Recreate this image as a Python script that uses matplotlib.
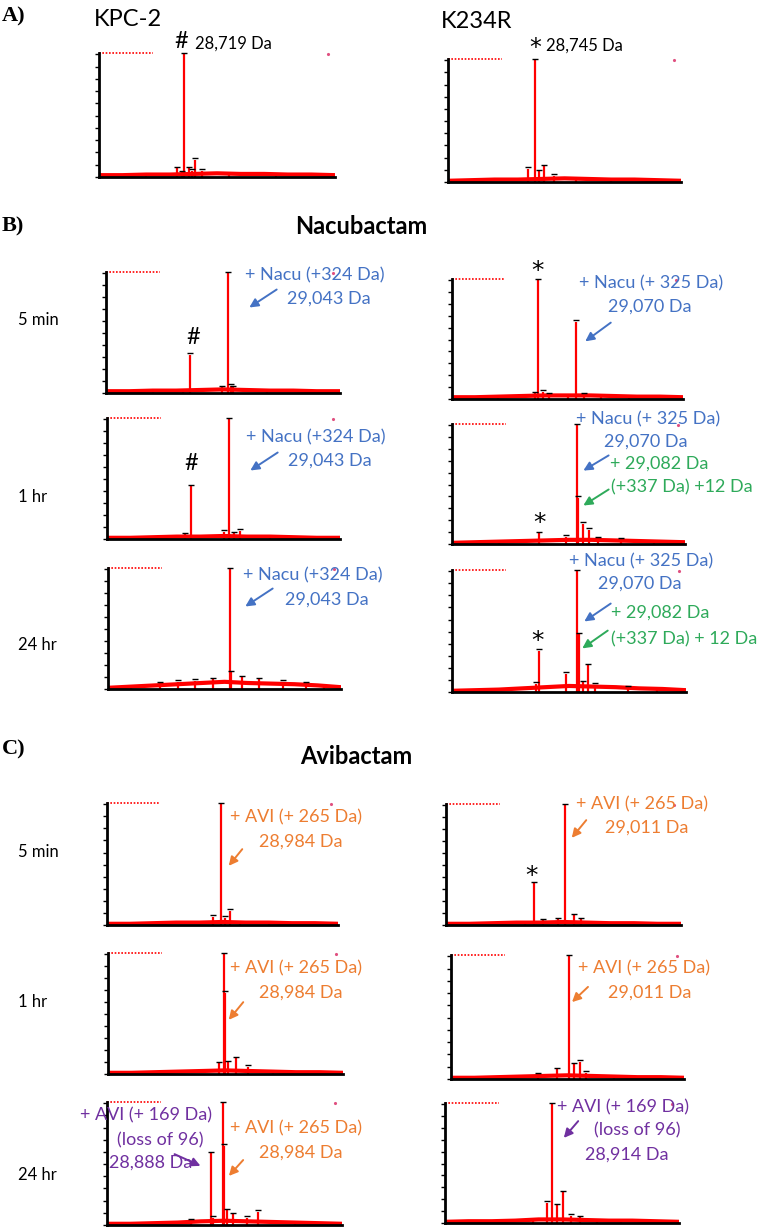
import matplotlib.pyplot as plt

# mass grid used for the baseline levels (Da)
base_mz = [28000, 28200, 28400, 28600, 28800, 29000, 29200, 29400, 29600, 29800, 30000]

# A) apo enzymes
kpc2_mz = [28400, 28660, 28700, 28719, 28763, 28790, 28814, 28873, 29100, 29500]
kpc2_int = [2, 7, 4, 100, 7, 5, 14, 5, 3, 2]
kpc2_base = [1.5, 1.5, 2, 2, 2.5, 3, 2.5, 2.5, 2, 2, 1.5]

k234r_mz = [28300, 28690, 28745, 28781, 28824, 28910, 29100, 29400]
k234r_int = [2, 11, 100, 9, 13, 5, 3, 2]
k234r_base = [1, 1.5, 2, 2, 2.5, 3, 2.5, 2, 2, 1.5, 1]

# B) nacubactam
nacu_kpc_5m_mz = [28400, 28658, 28719, 28991, 29043, 29070, 29088, 29374, 29700]
nacu_kpc_5m_int = [2, 3, 32, 5, 100, 6, 5, 3, 2]
nacu_kpc_5m_base = [1.5, 1.5, 2, 2, 2.5, 3, 2.5, 2, 2, 1.5, 1.5]

nacu_k234r_5m_mz = [28400, 28720, 28745, 28790, 28840, 29004, 29070, 29143, 29290, 29532]
nacu_k234r_5m_int = [2, 5, 100, 6, 4, 3, 65, 4, 3, 2]
nacu_k234r_5m_base = [1.5, 1.5, 2, 2.5, 3, 3, 3, 2.5, 2, 2, 1.5]

nacu_kpc_1h_mz = [28500, 28670, 28719, 29000, 29043, 29090, 29141, 29400]
nacu_kpc_1h_int = [2, 4, 44, 6, 100, 5, 7, 2]
nacu_kpc_1h_base = [1, 1, 1.5, 2, 2, 2.5, 2, 2, 1.5, 1, 1]

nacu_k234r_1h_mz = [28400, 28745, 28979, 29070, 29082, 29124, 29176, 29253, 29450, 29734]
nacu_k234r_1h_int = [2, 9, 6, 100, 39, 17, 12, 5, 4, 3]
nacu_k234r_1h_base = [1, 1.5, 2, 2.5, 3, 3.5, 3.5, 3, 2.5, 2, 1.5]

nacu_kpc_24h_mz = [28200, 28450, 28600, 28750, 28900, 29043, 29060, 29150, 29300, 29500, 29700, 29850]
nacu_kpc_24h_int = [3, 5, 6, 7, 8, 100, 14, 10, 8, 6, 5, 3]
nacu_kpc_24h_base = [1, 2, 3, 4, 5, 6, 5, 4.5, 4, 3, 1.5]

nacu_k234r_24h_mz = [28300, 28720, 28745, 28974, 29070, 29082, 29120, 29162, 29220, 29500, 29750]
nacu_k234r_24h_int = [2, 7, 34, 15, 100, 48, 8, 22, 6, 4, 3]
nacu_k234r_24h_base = [1, 1.5, 2, 3, 4, 5, 4.5, 4, 3, 2.5, 1.5]

# C) avibactam
avi_kpc_5m_mz = [28500, 28920, 28984, 29022, 29065, 29150, 29400, 29700]
avi_kpc_5m_int = [2, 7, 100, 6, 12, 3, 2, 2]
avi_kpc_5m_base = [1, 1, 1.5, 2, 2, 2.5, 2, 2, 1.5, 1.5, 1]

avi_k234r_5m_mz = [28400, 28672, 28745, 28825, 28950, 29011, 29089, 29150, 29320, 29600]
avi_k234r_5m_int = [2, 3, 35, 4, 5, 100, 8, 5, 3, 2]
avi_k234r_5m_base = [1, 1, 1.5, 2, 2, 2.5, 2, 1.5, 1.5, 1, 1]

avi_kpc_1h_mz = [28500, 28944, 28984, 28995, 29021, 29089, 29190, 29400, 29700]
avi_kpc_1h_int = [2, 9, 100, 68, 10, 13, 6, 3, 2]
avi_kpc_1h_base = [1, 1, 1.5, 2, 2.5, 3, 2.5, 2, 1.5, 1.5, 1]

avi_k234r_1h_mz = [28400, 28744, 28910, 29011, 29060, 29110, 29160, 29400, 29700]
avi_k234r_1h_int = [2, 4, 8, 100, 12, 14, 5, 3, 2]
avi_k234r_1h_base = [1, 1, 1.5, 2, 2.5, 3, 2.5, 2, 1.5, 1.5, 1]

avi_kpc_24h_mz = [28400, 28715, 28888, 28904, 28984, 28995, 29021, 29072, 29191, 29285, 29600]
avi_kpc_24h_int = [2, 4, 59, 6, 100, 65, 12, 9, 6, 11, 2]
avi_kpc_24h_base = [1, 1, 1.5, 2, 3, 3.5, 3, 2.5, 2, 1.5, 1]

avi_k234r_24h_mz = [28300, 28500, 28750, 28869, 28914, 28955, 29006, 29080, 29150, 29300, 29500]
avi_k234r_24h_int = [2, 3, 3, 17, 100, 15, 26, 6, 5, 3, 3]
avi_k234r_24h_base = [1, 1.5, 1.5, 2, 3, 3, 2.5, 2, 2, 1.5, 1]

W, H = 762, 1228
fig = plt.figure(figsize=(W / 100, H / 100), dpi=100)

# panel boxes in pixels: left, top, right, bottom
panels = [
    (kpc2_mz, kpc2_int, kpc2_base, (99, 53, 335, 177)),
    (k234r_mz, k234r_int, k234r_base, (448, 59, 681, 182)),
    (nacu_kpc_5m_mz, nacu_kpc_5m_int, nacu_kpc_5m_base, (106, 272, 340, 393)),
    (nacu_k234r_5m_mz, nacu_k234r_5m_int, nacu_k234r_5m_base, (452, 279, 683, 399)),
    (nacu_kpc_1h_mz, nacu_kpc_1h_int, nacu_kpc_1h_base, (107, 418, 340, 539)),
    (nacu_k234r_1h_mz, nacu_k234r_1h_int, nacu_k234r_1h_base, (452, 424, 685, 544)),
    (nacu_kpc_24h_mz, nacu_kpc_24h_int, nacu_kpc_24h_base, (108, 568, 341, 689)),
    (nacu_k234r_24h_mz, nacu_k234r_24h_int, nacu_k234r_24h_base, (452, 570, 686, 692)),
    (avi_kpc_5m_mz, avi_kpc_5m_int, avi_kpc_5m_base, (107, 803, 338, 925)),
    (avi_k234r_5m_mz, avi_k234r_5m_int, avi_k234r_5m_base, (446, 804, 681, 925)),
    (avi_kpc_1h_mz, avi_kpc_1h_int, avi_kpc_1h_base, (108, 953, 343, 1074)),
    (avi_k234r_1h_mz, avi_k234r_1h_int, avi_k234r_1h_base, (451, 955, 684, 1079)),
    (avi_kpc_24h_mz, avi_kpc_24h_int, avi_kpc_24h_base, (107, 1102, 342, 1225)),
    (avi_k234r_24h_mz, avi_k234r_24h_int, avi_k234r_24h_base, (445, 1103, 679, 1223)),
]

for mz, inten, base, (l, t, r, b) in panels:
    ax = fig.add_axes([l / W, 1 - b / H, (r - l) / W, (b - t) / H])
    ax.plot(base_mz, base, color='red', lw=3, solid_capstyle='butt')
    ax.vlines(mz, 0, inten, color='red', lw=1.6)
    caps = [(m, v) for m, v in zip(mz, inten) if v >= 4]
    ax.plot([c[0] for c in caps], [c[1] + 1.2 for c in caps], ls='none',
            marker='_', ms=4, mew=1, color='black', clip_on=False)
    # red header line of the instrument print-out, and the small mark on the right
    ax.plot([0.0, 0.23], [1.0, 1.0], transform=ax.transAxes, color='red',
            ls=(0, (1, 1)), lw=1.2, clip_on=False)
    ax.plot([0.97], [0.99], transform=ax.transAxes, ls='none', marker='.',
            ms=2.5, color='#e05080', clip_on=False)
    ax.set_xlim(28000, 30000)
    ax.set_ylim(0, 101)
    ax.set_yticks(range(0, 101, 10))
    ax.set_yticklabels([])
    ax.set_xticks([])
    ax.tick_params(axis='y', direction='out', length=3, width=1, color='black')
    for s in ('top', 'right'):
        ax.spines[s].set_visible(False)
    for s in ('left', 'bottom'):
        ax.spines[s].set_linewidth(2)
    ax.patch.set_alpha(0)

ov = fig.add_axes([0, 0, 1, 1])
ov.set_xlim(0, W)
ov.set_ylim(H, 0)
ov.axis('off')

sans = 'Lato'
blue, orange, green, purple = '#4472C4', '#ED7D31', '#2EAA5A', '#7030A0'

for lab, y in [('A)', 16), ('B)', 226), ('C)', 749)]:
    ov.text(2, y, lab, family='Liberation Serif', weight='bold', fontsize=16, va='center')

ov.text(94, 20, 'KPC-2', family=sans, fontsize=17, va='center')
ov.text(441, 22, 'K234R', family=sans, fontsize=17, va='center')
ov.text(181, 42, '#', family=sans, fontsize=17, ha='center', va='center')
ov.text(195, 44, '28,719 Da', family=sans, fontsize=12, va='center')
ov.text(535, 48, '*', family='DejaVu Sans', fontsize=17, ha='center', va='center')
ov.text(546, 46, '28,745 Da', family=sans, fontsize=12, va='center')

ov.text(361, 227, 'Nacubactam', family=sans, weight='bold', fontsize=17, ha='center', va='center')
ov.text(356, 756, 'Avibactam', family=sans, weight='bold', fontsize=17, ha='center', va='center')

for lab, y in [('5 min', 320), ('1 hr', 497), ('24 hr', 645),
               ('5 min', 852), ('1 hr', 1002), ('24 hr', 1175)]:
    ov.text(18, y, lab, family=sans, fontsize=12, va='center')

for x, y in [(193, 337), (191, 463)]:
    ov.text(x, y, '#', family=sans, fontsize=17, ha='center', va='center')
for x, y in [(538, 271), (540, 523), (538, 641), (531, 876)]:
    ov.text(x, y, '*', family='DejaVu Sans', fontsize=18, ha='center', va='center')

labels = [
    ('+ Nacu (+324 Da)', 245, 275, blue), ('29,043 Da', 287, 299, blue),
    ('+ Nacu (+ 325 Da)', 579, 283, blue), ('29,070 Da', 608, 307, blue),
    ('+ Nacu (+324 Da)', 246, 437, blue), ('29,043 Da', 288, 461, blue),
    ('+ Nacu (+ 325 Da)', 576, 419, blue), ('29,070 Da', 604, 442, blue),
    ('+ 29,082 Da', 610, 464, green), ('(+337 Da) +12 Da', 611, 487, green),
    ('+ Nacu (+324 Da)', 243, 575, blue), ('29,043 Da', 285, 600, blue),
    ('+ Nacu (+ 325 Da)', 569, 561, blue), ('29,070 Da', 598, 584, blue),
    ('+ 29,082 Da', 611, 613, green), ('(+337 Da) + 12 Da', 611, 639, green),
    ('+ AVI (+ 265 Da)', 230, 817, orange), ('28,984 Da', 259, 842, orange),
    ('+ AVI (+ 265 Da)', 576, 804, orange), ('29,011 Da', 605, 828, orange),
    ('+ AVI (+ 265 Da)', 230, 968, orange), ('28,984 Da', 259, 993, orange),
    ('+ AVI (+ 265 Da)', 578, 968, orange), ('29,011 Da', 608, 993, orange),
    ('+ AVI (+ 169 Da)', 80, 1115, purple), ('(loss of 96)', 117, 1140, purple),
    ('28,888 Da', 109, 1163, purple),
    ('+ AVI (+ 265 Da)', 230, 1128, orange), ('28,984 Da', 259, 1153, orange),
    ('+ AVI (+ 169 Da)', 557, 1107, purple), ('(loss of 96)', 594, 1130, purple),
    ('28,914 Da', 585, 1155, purple),
]
for txt, x, y, c in labels:
    ov.text(x, y, txt, family=sans, fontsize=13, color=c, va='center')

arrows = [
    ((279, 288), (247, 309), blue), ((613, 321), (583, 343), blue),
    ((280, 451), (248, 472), blue), ((611, 454), (581, 472), blue),
    ((611, 488), (581, 507), green), ((275, 587), (243, 608), blue),
    ((613, 602), (582, 623), blue), ((610, 629), (580, 650), green),
    ((244, 847), (227, 868), orange), ((588, 818), (570, 840), orange),
    ((245, 1000), (227, 1022), orange), ((590, 985), (570, 1004), orange),
    ((172, 1153), (203, 1167), purple), ((245, 1158), (227, 1178), orange),
    ((580, 1119), (562, 1140), purple),
]
for start, end, c in arrows:
    ov.annotate('', xy=end, xytext=start,
                arrowprops=dict(arrowstyle='-|>', color=c, lw=1.4, mutation_scale=13))

fig.savefig('out.png', dpi=100)
